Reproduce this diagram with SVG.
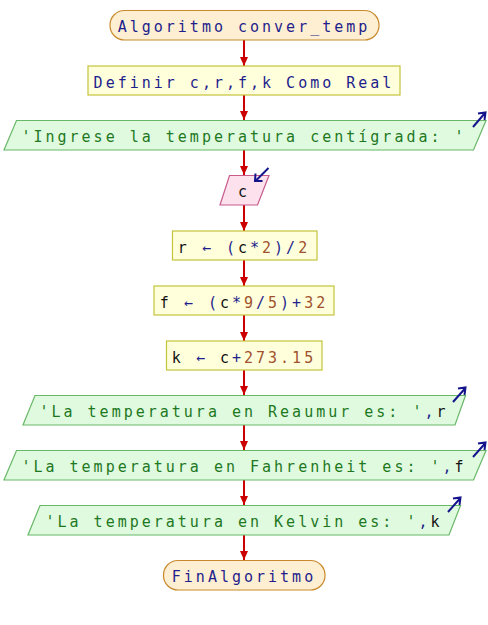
<svg xmlns="http://www.w3.org/2000/svg" width="488" height="625" viewBox="0 0 488 625">
<style>
text{font-family:"DejaVu Sans Mono","Liberation Mono",monospace;font-size:15px;letter-spacing:3px;text-anchor:middle}
.term{fill:#ffefd2;stroke:#c88a2c;stroke-width:1.2}
.proc{fill:#ffffdc;stroke:#c4c43c;stroke-width:1.2}
.out{fill:#e0fae0;stroke:#68b868;stroke-width:1.2}
.inp{fill:#fde2ee;stroke:#c85a8c;stroke-width:1.2}
.kw{fill:#1e1e8c}
.str{fill:#1e781e}
.var{fill:#111111}
.num{fill:#a0522d}
.op{fill:#1e1e8c}
.conn{stroke:#cc0000;stroke-width:2;fill:none}
.icon{stroke:#14148c;stroke-width:2;fill:none}
</style>
<defs>
<marker id="ah" markerUnits="userSpaceOnUse" markerWidth="10" markerHeight="8" refX="9" refY="4" orient="auto">
<path d="M0,0 L9,4 L0,8 Z" fill="#cc0000"/>
</marker>
</defs>
<g id="connectors">
<line class="conn" x1="244" y1="40" x2="244" y2="66" marker-end="url(#ah)"/>
<line class="conn" x1="244" y1="95" x2="244" y2="120" marker-end="url(#ah)"/>
<line class="conn" x1="244" y1="150" x2="244" y2="175" marker-end="url(#ah)"/>
<line class="conn" x1="244" y1="205" x2="244" y2="231" marker-end="url(#ah)"/>
<line class="conn" x1="244" y1="260" x2="244" y2="286" marker-end="url(#ah)"/>
<line class="conn" x1="244" y1="315" x2="244" y2="341" marker-end="url(#ah)"/>
<line class="conn" x1="244" y1="370" x2="244" y2="395" marker-end="url(#ah)"/>
<line class="conn" x1="244" y1="425" x2="244" y2="450" marker-end="url(#ah)"/>
<line class="conn" x1="244" y1="480" x2="244" y2="505" marker-end="url(#ah)"/>
<line class="conn" x1="244" y1="535" x2="244" y2="560" marker-end="url(#ah)"/>
</g>
<g id="start">
<rect class="term" x="110" y="10.5" width="269" height="29.5" rx="14.5"/>
<text x="244" y="32.3" class="kw">Algoritmo conver_temp</text>
</g>
<g id="definir">
<rect class="proc" x="88" y="66" width="312" height="29"/>
<text x="244" y="87.7" class="kw">Definir c,r,f,k Como Real</text>
</g>
<g id="ingrese">
<polygon class="out" points="16.5,120.5 486,120.5 473.5,150 4,150"/>
<text x="244" y="142" class="str">'Ingrese la temperatura centígrada: '</text>
<path class="icon" d="M473,127 L485,113 M478,113.5 L485.5,112.5 L484.5,120"/>
</g>
<g id="leer">
<polygon class="inp" points="229.5,175.5 269,175.5 257.5,205 220,205"/>
<text x="244" y="197" class="var">c</text>
<path class="icon" d="M268.5,168 L256,180.5 M255.5,173.5 L255,181 L262.5,181"/>
</g>
<g id="asig_r">
<rect class="proc" x="172.5" y="231" width="144.5" height="29"/>
<text x="244" y="252.5"><tspan class="var">r</tspan> <tspan class="op">←</tspan> <tspan class="op">(</tspan><tspan class="var">c</tspan><tspan class="op">*</tspan><tspan class="num">2</tspan><tspan class="op">)/</tspan><tspan class="num">2</tspan></text>
</g>
<g id="asig_f">
<rect class="proc" x="154" y="286" width="180" height="29"/>
<text x="244" y="307.5"><tspan class="var">f</tspan> <tspan class="op">←</tspan> <tspan class="op">(</tspan><tspan class="var">c</tspan><tspan class="op">*</tspan><tspan class="num">9</tspan><tspan class="op">/</tspan><tspan class="num">5</tspan><tspan class="op">)+</tspan><tspan class="num">32</tspan></text>
</g>
<g id="asig_k">
<rect class="proc" x="166.5" y="341" width="155.5" height="29"/>
<text x="244" y="362.5"><tspan class="var">k</tspan> <tspan class="op">←</tspan> <tspan class="var">c</tspan><tspan class="op">+</tspan><tspan class="num">273.15</tspan></text>
</g>
<g id="esc_r">
<polygon class="out" points="35,395.5 465.5,395.5 455,425 23,425"/>
<text x="244" y="417"><tspan class="str">'La temperatura en Reaumur es: '</tspan><tspan class="op">,</tspan><tspan class="var">r</tspan></text>
<path class="icon" d="M453,402 L465,388.5 M458,388.5 L465.5,387.5 L464.5,395"/>
</g>
<g id="esc_f">
<polygon class="out" points="16.5,450.5 486,450.5 473.5,480 4,480"/>
<text x="244" y="472"><tspan class="str">'La temperatura en Fahrenheit es: '</tspan><tspan class="op">,</tspan><tspan class="var">f</tspan></text>
<path class="icon" d="M473,457 L485,443.5 M478,443.5 L485.5,442.5 L484.5,450"/>
</g>
<g id="esc_k">
<polygon class="out" points="40,505.5 460.5,505.5 449,535 28,535"/>
<text x="244" y="527"><tspan class="str">'La temperatura en Kelvin es: '</tspan><tspan class="op">,</tspan><tspan class="var">k</tspan></text>
<path class="icon" d="M448,512 L460,498.5 M453,498.5 L460.5,497.5 L459.5,505"/>
</g>
<g id="fin">
<rect class="term" x="163.5" y="560.5" width="161.5" height="29.5" rx="14.5"/>
<text x="244" y="582.3" class="kw">FinAlgoritmo</text>
</g>
</svg>
